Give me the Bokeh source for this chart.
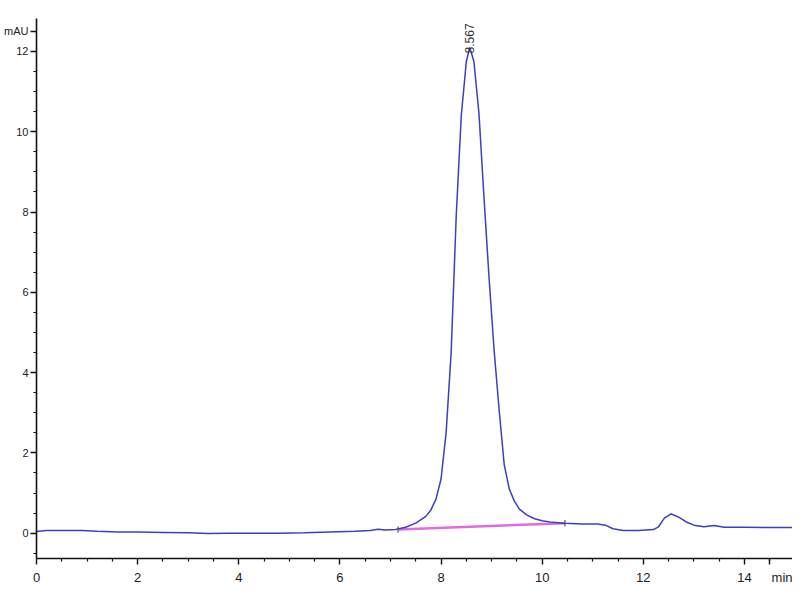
import math
from bokeh.plotting import figure
from bokeh.models import Label, Range1d, FixedTicker
from bokeh.embed import file_html
from bokeh.resources import INLINE

# ---- data ----
times = [0.0, 0.2, 0.5, 0.9, 1.2, 1.6, 2.0, 2.5, 3.0, 3.4, 3.8, 4.3, 4.8, 5.3, 5.8,
         6.3, 6.6, 6.75, 6.9, 7.1, 7.3, 7.5, 7.7, 7.8, 7.9, 8.0, 8.1, 8.2, 8.3, 8.4,
         8.5, 8.567, 8.65, 8.75, 8.85, 8.95, 9.05, 9.15, 9.25, 9.35, 9.45, 9.55, 9.7,
         9.85, 10.0, 10.2, 10.45, 10.8, 11.1, 11.25, 11.4, 11.6, 11.9, 12.2, 12.3,
         12.42, 12.55, 12.7, 12.85, 13.0, 13.2, 13.4, 13.6, 14.0, 14.5, 14.95]
signal = [0.04, 0.07, 0.07, 0.07, 0.05, 0.03, 0.03, 0.02, 0.01, -0.01, 0.0, 0.0, 0.0, 0.01, 0.03,
          0.05, 0.07, 0.1, 0.08, 0.09, 0.15, 0.25, 0.42, 0.58, 0.85, 1.35, 2.5, 4.5, 7.9, 10.4,
          11.75, 12.1, 11.75, 10.45, 8.35, 6.35, 4.55, 3.05, 1.7, 1.1, 0.8, 0.6, 0.45,
          0.36, 0.31, 0.27, 0.25, 0.23, 0.23, 0.2, 0.11, 0.07, 0.07, 0.09, 0.16,
          0.38, 0.48, 0.4, 0.28, 0.2, 0.16, 0.19, 0.15, 0.15, 0.14, 0.14]

baseline_t = [7.15, 10.45]
baseline_v = [0.09, 0.25]

peak_time = 8.567
peak_label = "8.567"
peak_label_y = 11.95

x_ticks = [0, 2, 4, 6, 8, 10, 12, 14]
y_ticks = [0, 2, 4, 6, 8, 10, 12]
y_unit = "mAU"
x_unit = "min"
y_unit_pos = 12.5   # unit text sits at the top of the value axis
x_unit_pos = 14.5   # unit text sits at the right end of the time axis

FONT = "Liberation Sans"
NBSP = "\u00a0"

p = figure(width=792, height=592, output_backend="svg", toolbar_location=None,
           x_range=Range1d(0, 14.95), y_range=Range1d(-0.63, 12.82),
           min_border_left=36, min_border_right=0, min_border_top=18, min_border_bottom=34)
p.outline_line_color = None
p.xgrid.visible = False
p.ygrid.visible = False
p.background_fill_color = "white"
p.border_fill_color = "white"

for ax in (p.xaxis[0], p.yaxis[0]):
    ax.axis_line_color = "#111111"
    ax.axis_line_width = 1.6
    ax.major_tick_line_color = "#111111"
    ax.minor_tick_line_color = "#111111"
    ax.major_tick_line_width = 1.4
    ax.minor_tick_line_width = 1.2
    ax.major_tick_out = 6
    ax.major_tick_in = 0
    ax.minor_tick_out = 3
    ax.minor_tick_in = 0
    ax.major_label_text_font = FONT
    ax.major_label_text_color = "#222222"
p.xaxis.major_label_text_font_size = "13px"
p.yaxis.major_label_text_font_size = "11px"

x_minor = [t / 2 for t in range(0, 30) if t % 4 != 0]
y_minor = [t / 2 for t in range(-1, 26) if t % 4 != 0]
p.xaxis[0].ticker = FixedTicker(ticks=x_ticks + [x_unit_pos], minor_ticks=x_minor)
p.yaxis[0].ticker = FixedTicker(ticks=y_ticks + [y_unit_pos], minor_ticks=y_minor)
p.xaxis[0].major_label_overrides = {x_unit_pos: NBSP * 15 + x_unit}
p.yaxis[0].major_label_overrides = {y_unit_pos: y_unit}
p.xaxis.major_label_standoff = 5
p.yaxis.major_label_standoff = 2

# integration baseline
p.line(baseline_t, baseline_v, line_color="#e06be0", line_width=2.5)
# chromatogram trace
p.line(times, signal, line_color="#3d3dc6", line_width=1.5)
# integration start / end marks
p.segment(x0=baseline_t, y0=[v - 0.08 for v in baseline_v],
          x1=baseline_t, y1=[v + 0.08 for v in baseline_v],
          line_color="#555555", line_width=1.2)

p.add_layout(Label(x=peak_time, y=peak_label_y, text=peak_label, angle=math.pi / 2,
                   text_align="left", text_baseline="middle", text_font=FONT,
                   text_font_size="12px", text_color="#333333"))

open("out.html", "w").write(file_html(p, INLINE))
